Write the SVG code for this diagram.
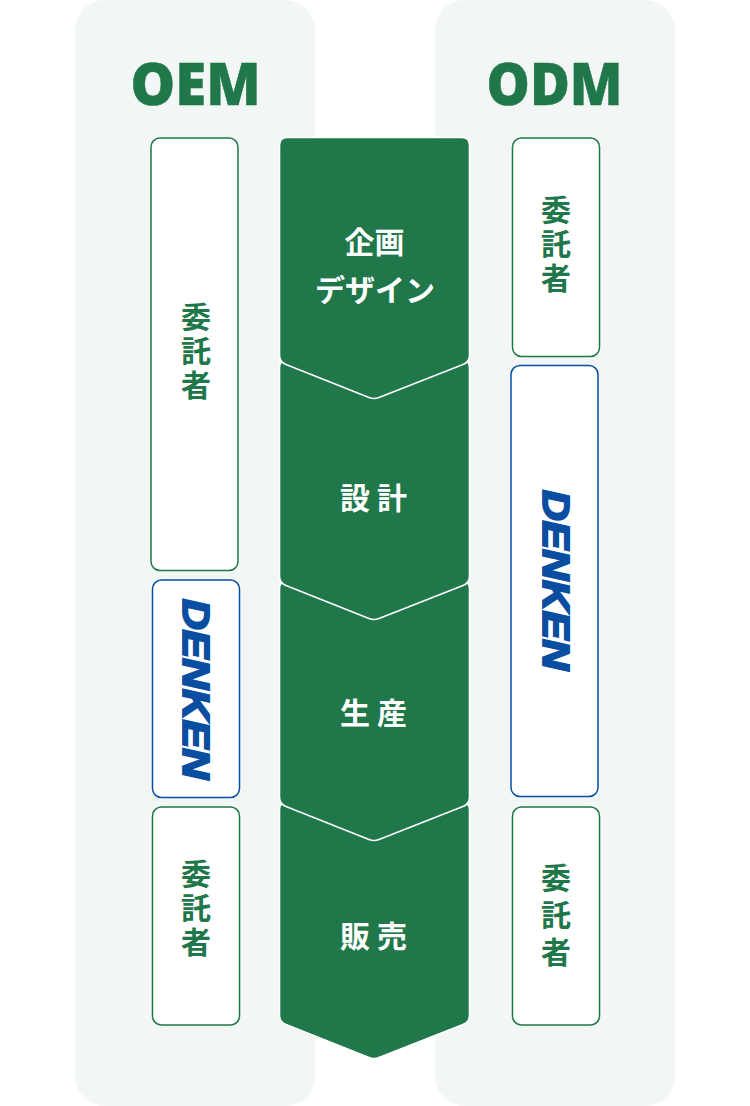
<svg xmlns="http://www.w3.org/2000/svg" width="750" height="1106" viewBox="0 0 750 1106">
<style>
.panel{fill:#f2f6f5}
.chev{fill:#1f774a;stroke:#fff;stroke-width:1.6}
.box{fill:#fff;stroke:#1f774a;stroke-width:1.5}
.boxb{fill:#fff;stroke:#0a4ea2;stroke-width:1.5}
.h{font-family:"Noto Sans","Open Sans",sans-serif;font-weight:900;font-size:58px;fill:#1f774a;stroke:#1f774a;stroke-width:.5;text-anchor:middle}
.s{font-family:"Noto Sans CJK JP",sans-serif;font-weight:700;font-size:30px;fill:#fff;text-anchor:middle}
.v{font-family:"Noto Sans CJK JP",sans-serif;font-weight:700;font-size:30px;fill:#1f774a;text-anchor:middle;writing-mode:vertical-rl;letter-spacing:4px}
.logo{font-family:"Liberation Sans",Arial,sans-serif;font-weight:700;font-style:italic;font-size:44px;fill:#0a4ea2;stroke:#0a4ea2;stroke-width:2.4;text-anchor:middle}
</style>
<g id="panel-oem"><rect class="panel" x="75" y="0" width="240" height="1106" rx="30"/><text class="h" x="195.500" y="105" textLength="130" lengthAdjust="spacingAndGlyphs">OEM</text></g>
<g id="panel-odm"><rect class="panel" x="435" y="0" width="240" height="1106" rx="30"/><text class="h" x="554.500" y="105" textLength="136" lengthAdjust="spacingAndGlyphs">ODM</text></g>
<g id="step-sales"><path class="chev" d="M287 802H462Q469.500 802 469.500 810V1015Q469.500 1022 463 1024.500L379 1057.500Q374 1059.500 369 1057.500L286 1024.500Q279.500 1022 279.500 1015V810Q279.500 802 287 802Z"/><text class="s" x="377" y="947" letter-spacing="7">販売</text></g>
<g id="step-production"><path class="chev" d="M287 581H462Q469.500 581 469.500 589V797Q469.500 804 463 806.500L379 839.500Q374 841.500 369 839.500L286 806.500Q279.500 804 279.500 797V589Q279.500 581 287 581Z"/><text class="s" x="377" y="724" letter-spacing="7">生産</text></g>
<g id="step-design"><path class="chev" d="M287 360H462Q469.500 360 469.500 368V576Q469.500 583 463 585.500L379 618.500Q374 620.500 369 618.500L286 585.500Q279.500 583 279.500 576V368Q279.500 360 287 360Z"/><text class="s" x="377" y="509" letter-spacing="7">設計</text></g>
<g id="step-planning"><path class="chev" d="M287 137.500H462Q469.500 137.500 469.500 145.500V355Q469.500 362 463 364.500L379 397.500Q374 399.500 369 397.500L286 364.500Q279.500 362 279.500 355V145.500Q279.500 137.500 287 137.500Z"/><text class="s" x="374.500" y="253">企画</text><text class="s" x="375" y="301">デザイン</text></g>
<g id="oem-client-1"><rect class="box" x="151" y="138" width="87" height="432.500" rx="9"/><text class="v" x="196" y="353">委託者</text></g>
<g id="oem-denken"><rect class="boxb" x="152.500" y="580" width="87" height="217.500" rx="9"/><text class="logo" transform="translate(182.500,689) rotate(90) scale(1,.82)" textLength="180" lengthAdjust="spacingAndGlyphs">DENKEN</text></g>
<g id="oem-client-2"><rect class="box" x="152.500" y="807" width="87" height="218" rx="9"/><text class="v" x="196" y="910">委託者</text></g>
<g id="odm-client-1"><rect class="box" x="512.500" y="138" width="87" height="218.500" rx="9"/><text class="v" x="556" y="246">委託者</text></g>
<g id="odm-denken"><rect class="boxb" x="511" y="365.500" width="87" height="431" rx="9"/><text class="logo" transform="translate(542.500,580) rotate(90) scale(1,.82)" textLength="180" lengthAdjust="spacingAndGlyphs">DENKEN</text></g>
<g id="odm-client-2"><rect class="box" x="512.500" y="807" width="87" height="218" rx="9"/><text class="v" x="556" y="918" style="letter-spacing:7px">委託者</text></g>
</svg>
